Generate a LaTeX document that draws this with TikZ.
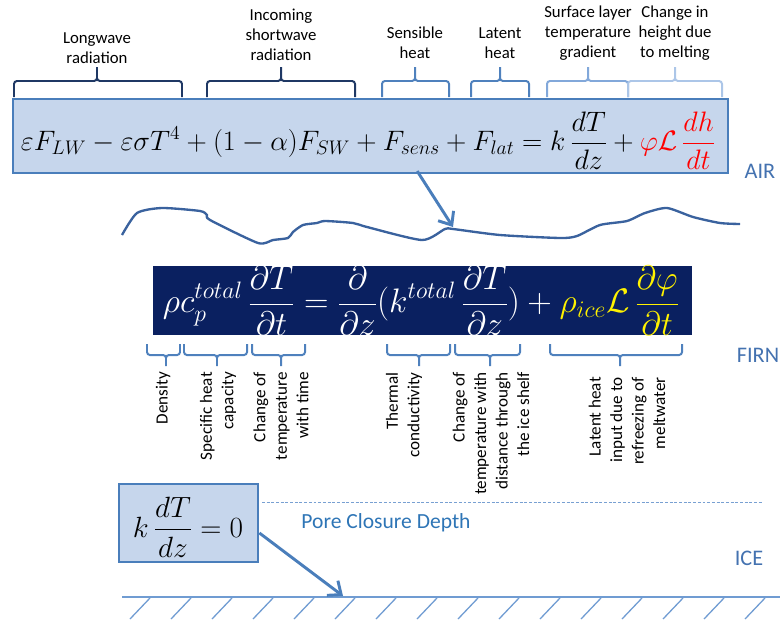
\RequirePackage{fix-cm}
\documentclass[tikz,border=0pt]{standalone}
\usepackage{amsmath}
\usepackage[no-math]{fontspec}
\setmainfont{Carlito}
\usetikzlibrary{arrows.meta,positioning}
\definecolor{boxfill}{RGB}{198,214,236}
\definecolor{boxline}{RGB}{74,126,187}
\definecolor{firnfill}{RGB}{10,32,96}
\definecolor{navybr}{RGB}{31,56,100}
\definecolor{midbr}{RGB}{79,129,189}
\definecolor{lightbr}{RGB}{130,168,218}
\definecolor{palebr}{RGB}{172,198,232}
\definecolor{surf}{RGB}{58,98,158}
\definecolor{layer}{RGB}{68,114,176}
\definecolor{pore}{RGB}{46,117,182}
\definecolor{poreline}{RGB}{120,160,210}
\definecolor{bed}{RGB}{112,156,210}
\tikzset{
  brc/.style={line width=1.7pt,rounded corners=2.5pt},
  lab/.style={font=\fontsize{14.3}{17}\selectfont,align=center,inner sep=0pt},
  vlab/.style={font=\fontsize{14.6}{18.3}\selectfont,align=right,rotate=90,anchor=east,inner sep=0pt},
  layerlab/.style={font=\fontsize{19}{19}\selectfont,text=layer,inner sep=0pt},
  eqbox/.style={draw=boxline,line width=2.4pt,fill=boxfill,inner sep=0pt},
  flux/.style={draw=boxline,line width=2.5pt,-{Straight Barb[length=3.3mm,width=5.5mm]}},
}
\begin{document}
\begin{tikzpicture}[x=0.3mm,y=-0.3mm]
\useasboundingbox (0,0) rectangle (784,619);
% braces over the surface balance
\foreach \xa/\xm/\xb/\col in {14/97/182/navybr,207/281/355/navybr,382/415/449/midbr,471/500/529/midbr,547/588/628/lightbr,628/675/722/palebr}
  \draw[brc,\col] (\xa,97) -- (\xa,81) -- (\xm,81) -- (\xm,67) (\xb,97) -- (\xb,81) -- (\xm,81) -- (\xm,67);
\node[lab] (lw) at (97,48) {Longwave\\radiation};
\node[lab] (sw) at (281,35) {Incoming\\shortwave\\radiation};
\node[lab] (sens) at (415,43) {Sensible\\heat};
\node[lab] (lat) at (500,43) {Latent\\heat};
\node[lab] (grad) at (588,33) {Surface layer\\temperature\\gradient};
\node[lab] (melt) at (675,33) {Change in\\height due\\to melting};
% surface energy balance
\node[eqbox,minimum width=214.5mm,minimum height=22.2mm] (airbox) at (370.5,136) {};
\node[font=\fontsize{24}{28}\selectfont] (aireq) at (368,141)
  {$\displaystyle \varepsilon F_{LW}-\varepsilon\sigma T^4+(1-\alpha)F_{SW}+F_{sens}+F_{lat}=k\,\frac{dT}{dz}+{\color{red}\varphi\mathcal{L}\,\frac{dh}{dt}}$};
\node[layerlab] (air) at (760,171) {AIR};
% snow surface
\draw[surf,line width=2pt] plot[smooth,tension=0.4] coordinates {(122,235) (137,213) (162,208) (200,211) (207,215) (210,220) (258,243) (273,240) (288,238) (293,232) (303,225) (317,223) (325,221) (353,223) (367,227) (422,240) (445,229) (453,229) (500,235) (560,238) (577,236) (600,225) (627,221) (645,213) (667,208) (693,217) (720,223) (740,224)};
\coordinate (surfhit) at (453,227);
\draw[flux] ([xshift=14mm,yshift=1mm]airbox.south) -- (surfhit);
% firn heat equation
\node[fill=firnfill,minimum width=161.7mm,minimum height=20.7mm,inner sep=0pt] (firnbox) at (422.5,300.5) {};
\node[text=white,font=\fontsize{29}{34}\selectfont] (firneq) at (421,301)
  {$\displaystyle \rho c_p^{total}\,\frac{\partial T}{\partial t}=\frac{\partial}{\partial z}(k^{total}\,\frac{\partial T}{\partial z})+{\color{yellow}\rho_{ice}\mathcal{L}\,\frac{\partial\varphi}{\partial t}}$};
\foreach \xa/\xm/\xb in {147/166/180,184/217/247,252/281/305,387/419/450,455/490/520,550/620/682}
  \draw[brc,midbr] (\xa,344) -- (\xa,355) -- (\xm,355) -- (\xm,366) (\xb,344) -- (\xb,355) -- (\xm,355) -- (\xm,366);
\node[vlab] (dens) at (163,372) {Density};
\node[vlab] (heatcap) at (218,372) {Specific heat\\capacity};
\node[vlab] (dtdt) at (281,372) {Change of\\temperature\\with time};
\node[vlab] (cond) at (404,372) {Thermal\\conductivity};
\node[vlab] (dtdz) at (491,372) {Change of\\temperature with\\distance through\\the ice shelf};
\node[vlab] (refreeze) at (627,377) {Latent heat\\input due to\\refreezing of\\meltwater};
\node[layerlab] (firn) at (758,355) {FIRN};
% ice boundary
\node[eqbox,minimum width=41.7mm,minimum height=23.4mm] (kbox) at (188.5,523) {};
\node[font=\fontsize{25}{29}\selectfont] (keq) at (188,527) {$\displaystyle k\,\frac{dT}{dz}=0$};
\draw[poreline,line width=0.8pt,dash pattern=on 2.5pt off 1.5pt] (262,502) -- (763,502);
\node[font=\fontsize{18.4}{18.4}\selectfont,text=pore,inner sep=0pt] (porelab) at (386,523) {Pore Closure Depth};
\node[layerlab] (ice) at (749,558) {ICE};
\draw[bed,line width=1.3pt] (122,597) -- (780,597);
\foreach \i in {0,...,15}
  \draw[bed,line width=1.1pt] (150+41*\i,598) -- ++(-20,21);
\coordinate (bedhit) at (343,596);
\draw[flux] ([yshift=-3mm]kbox.east) -- (bedhit);
\end{tikzpicture}
\end{document}
